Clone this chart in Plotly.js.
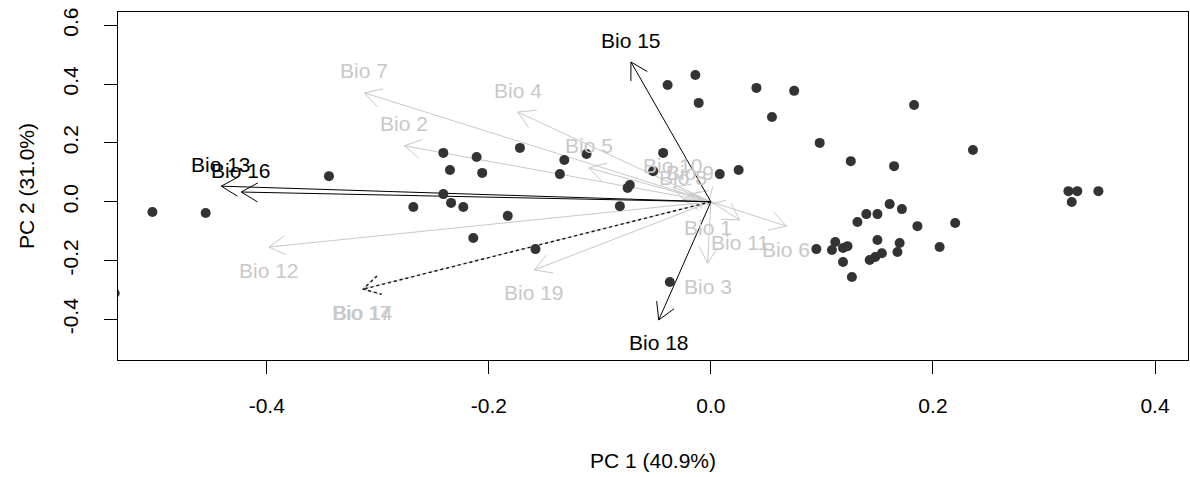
<!DOCTYPE html>
<html><head><meta charset="utf-8">
<script src="https://cdn.plot.ly/plotly-3.0.1.min.js"></script>
<style>html,body{margin:0;padding:0;background:#fff}#chart{width:1190px;height:477px}</style>
</head><body><div id="chart"></div>
<script>
// Sample scores (PC1, PC2)
const scoreX = [-0.503,-0.455,-0.344,-0.268,-0.241,-0.211,-0.172,-0.132,-0.112,-0.235,-0.206,-0.136,-0.241,-0.234,-0.223,-0.183,-0.214,-0.158,-0.082,-0.073,-0.075,-0.043,-0.052,0.008,0.025,-0.014,-0.039,-0.011,0.041,0.075,0.055,0.183,0.098,0.126,0.165,0.236,0.322,0.330,0.349,0.325,0.161,0.172,0.140,0.150,0.132,0.186,0.220,0.150,0.170,0.168,0.206,0.095,0.112,0.109,0.119,0.123,0.119,0.143,0.148,0.154,0.127,-0.037,-0.537];
const scoreY = [-0.035,-0.038,0.087,-0.018,0.166,0.152,0.183,0.142,0.162,0.108,0.098,0.094,0.026,-0.004,-0.018,-0.048,-0.123,-0.161,-0.015,0.057,0.047,0.166,0.104,0.094,0.108,0.431,0.397,0.336,0.387,0.377,0.288,0.329,0.200,0.138,0.121,0.176,0.036,0.036,0.036,-0.001,-0.008,-0.025,-0.042,-0.042,-0.069,-0.083,-0.072,-0.130,-0.140,-0.171,-0.154,-0.161,-0.137,-0.164,-0.157,-0.151,-0.205,-0.198,-0.188,-0.175,-0.256,-0.273,-0.311];

// Variable loadings (arrow tips)
const varNames = ['Bio 1','Bio 2','Bio 3','Bio 4','Bio 5','Bio 6','Bio 7','Bio 8','Bio 9','Bio 10','Bio 11','Bio 12','Bio 17','Bio 13','Bio 14','Bio 15','Bio 16','Bio 18','Bio 19'];
const varX = [-0.003,-0.276,-0.003,-0.174,-0.110,0.068,-0.312,-0.025,-0.019,-0.034,0.026,-0.398,-0.314,-0.441,-0.313,-0.072,-0.423,-0.047,-0.159];
const varY = [-0.011,0.190,-0.209,0.305,0.115,-0.083,0.370,0.009,0.026,0.050,-0.062,-0.154,-0.297,0.053,-0.297,0.475,0.033,-0.402,-0.232];

// Variables drawn in black (solid) and black dotted
const blackVars = ['Bio 13','Bio 15','Bio 16','Bio 18'];
const dottedVars = ['Bio 14'];

const xRange = [-0.534, 0.4297];
const yRange = [-0.538, 0.645];
const M = {l:118, r:2, t:12, b:117};
const W = 1190, H = 477;
const kx = (W - M.l - M.r) / (xRange[1] - xRange[0]);
const ky = (H - M.t - M.b) / (yRange[1] - yRange[0]);
const headLen = 19, headAng = Math.PI / 6;

function arrowTrace(idx, color, dash, width) {
  const xs = [], ys = [];
  idx.forEach(i => {
    const tx = varX[i], ty = varY[i];
    xs.push(0, tx, null); ys.push(0, ty, null);
    const th = Math.atan2(ty * ky, tx * kx);
    const b1x = tx - headLen * Math.cos(th + headAng) / kx;
    const b1y = ty - headLen * Math.sin(th + headAng) / ky;
    const b2x = tx - headLen * Math.cos(th - headAng) / kx;
    const b2y = ty - headLen * Math.sin(th - headAng) / ky;
    xs.push(b1x, tx, b2x, null); ys.push(b1y, ty, b2y, null);
  });
  return {x: xs, y: ys, mode: 'lines', type: 'scatter', hoverinfo: 'skip',
    line: {color: color, width: width || 1, dash: dash || 'solid'}, showlegend: false};
}

const grayIdx = [], blackIdx = [], dotIdx = [];
varNames.forEach((n, i) => {
  if (blackVars.includes(n)) blackIdx.push(i);
  else if (dottedVars.includes(n)) dotIdx.push(i);
  else grayIdx.push(i);
});

const traces = [
  arrowTrace(grayIdx, '#c8c8c8'),
  arrowTrace(blackIdx, '#000000'),
  arrowTrace(dotIdx, '#111111', 'dot', 1.4),
  {x: scoreX, y: scoreY, mode: 'markers', type: 'scatter', showlegend: false,
   marker: {color: '#333333', size: 10}, cliponaxis: true}
];

const font = 'Liberation Sans, Arial, sans-serif';
const annotations = varNames.map((n, i) => ({
  x: varX[i], y: varY[i], xref: 'x', yref: 'y', text: n, showarrow: false,
  yshift: varY[i] > 0 ? 22 : -23,
  font: {family: font, size: 21, color: (blackVars.includes(n)) ? '#000000' : '#c8c8c8'}
}));

const layout = {
  width: W, height: H, margin: M,
  paper_bgcolor: '#ffffff', plot_bgcolor: '#ffffff',
  font: {family: font, size: 21, color: '#000'},
  showlegend: false,
  xaxis: {range: xRange, tickvals: [-0.4,-0.2,0,0.2,0.4], ticktext: ['-0.4','-0.2','0.0','0.2','0.4'],
    ticks: 'outside', ticklen: 13, tickcolor: '#000', showgrid: false, zeroline: false,
    showline: true, mirror: true, linecolor: '#000', linewidth: 1, ticklabelstandoff: 14,
    title: {text: 'PC 1 (40.9%)', font: {size: 21}, standoff: 37}, automargin: false},
  yaxis: {range: yRange, tickvals: [-0.4,-0.2,0,0.2,0.4,0.6], ticktext: ['-0.4','-0.2','0.0','0.2','0.4','0.6'],
    tickangle: -90, ticks: 'outside', ticklen: 13, tickcolor: '#000', showgrid: false, zeroline: false,
    showline: true, mirror: true, linecolor: '#000', linewidth: 1, ticklabelstandoff: 18,
    title: {text: 'PC 2 (31.0%)', font: {size: 21}, standoff: 18}, automargin: false},
  annotations: annotations
};

Plotly.newPlot('chart', traces, layout, {displayModeBar: false, staticPlot: true});
</script></body></html>
